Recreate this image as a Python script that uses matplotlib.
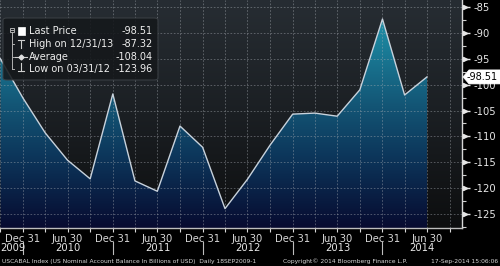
import numpy as np
import pandas as pd
import matplotlib
matplotlib.use("Agg")
import matplotlib.pyplot as plt
import matplotlib.dates as mdates
from matplotlib.colors import LinearSegmentedColormap
from matplotlib.patches import FancyBboxPatch, Polygon
from matplotlib.lines import Line2D
import matplotlib.transforms as mtrans

# ---------------- data ----------------
dates = ["2009-09-30", "2009-12-31", "2010-03-31", "2010-06-30", "2010-09-30",
         "2010-12-31", "2011-03-31", "2011-06-30", "2011-09-30", "2011-12-31",
         "2012-03-31", "2012-06-30", "2012-09-30", "2012-12-31", "2013-03-31",
         "2013-06-30", "2013-09-30", "2013-12-31", "2014-03-31", "2014-06-30"]
values = [-95.0, -102.6, -109.3, -114.6, -118.2,
          -101.8, -118.6, -120.6, -108.0, -112.1,
          -123.96, -118.3, -111.7, -105.7, -105.5,
          -106.1, -101.0, -87.32, -102.0, -98.51]
y_ticks = [-125, -120, -115, -110, -105, -100, -95, -90, -85]
years = ["2009", "2010", "2011", "2012", "2013", "2014"]
footer_left = "USCABAL Index (US Nominal Account Balance In Billions of USD)  Daily 18SEP2009-1"
footer_mid = "Copyright\u00a9 2014 Bloomberg Finance L.P."
footer_right = "17-Sep-2014 15:06:06"

plt.rcParams['axes.unicode_minus'] = False
plt.rcParams['font.family'] = ['DejaVu Sans']

W, H = 500, 266
fig = plt.figure(figsize=(W / 100, H / 100), dpi=100, facecolor='black')


def P(x, y):
    return (x / W, 1 - y / H)


ax_right_px = 462
ax_bottom_px = 228
ax = fig.add_axes([0, 1 - ax_bottom_px / H, ax_right_px / W, ax_bottom_px / H])
ax.set_facecolor('black')

xd = mdates.date2num(pd.to_datetime(dates))
yv = np.array(values)

# x scale: Dec 31 2009 at px 23, Jun 30 2014 at px 427
d0 = mdates.date2num(pd.Timestamp("2009-12-31"))
d1 = mdates.date2num(pd.Timestamp("2014-06-30"))
ppd = (427 - 23) / (d1 - d0)
xmin = d0 - 23 / ppd
xmax = d1 + (ax_right_px - 427) / ppd
ymin, ymax = -127.7, -83.65

# background gradient
bg = LinearSegmentedColormap.from_list('bg', [(0, '#0d0e0f'), (0.5, '#1b1f23'), (1, '#272d33')])
grad = np.linspace(0, 1, 256).reshape(-1, 1)
ax.imshow(grad, cmap=bg, origin='lower', extent=[0, 1, 0, 1], aspect='auto',
          transform=ax.transAxes, zorder=0)

# fill gradient clipped by area polygon
fc = LinearSegmentedColormap.from_list('fill', [(0, '#070b30'), (0.3, '#0c3358'), (0.55, '#135575'),
                                                (0.8, '#1a7b96'), (1.0, '#2298ae')])
im = ax.imshow(grad, cmap=fc, origin='lower', extent=[xd[0], xd[-1], ymin, -85],
               aspect='auto', zorder=1)
poly_pts = np.column_stack([np.r_[xd, xd[-1], xd[0]], np.r_[yv, ymin, ymin]])
poly = Polygon(poly_pts, closed=True, transform=ax.transData, facecolor='none', edgecolor='none')
ax.add_patch(poly)
im.set_clip_path(poly)
ax.set_xlim(xmin, xmax)
ax.set_ylim(ymin, ymax)

ax.plot(xd, yv, color='#c8d2dc', lw=1.0, zorder=4)

# ticks
qdates = pd.date_range("2009-09-30", "2014-09-30", freq="QE")
qticks = mdates.date2num(qdates)
qlabels = ["Dec 31" if t.month == 12 else ("Jun 30" if t.month == 6 else "") for t in qdates]
ax.set_xticks(qticks)
ax.set_xticklabels(qlabels)
ax.set_yticks(y_ticks)
ax.set_yticklabels([f"{v:g}" for v in y_ticks])
ax.set_yticks(np.arange(-127.5, -83, 2.5), minor=True)
ax.yaxis.tick_right()
ax.tick_params(axis='y', which='major', direction='out', length=6, width=1,
               colors='#e6e6e6', labelsize=7.2, pad=2)
ax.tick_params(axis='y', which='minor', direction='out', length=3, width=0.8, colors='#d0d0d0')
ax.tick_params(axis='x', which='major', direction='out', length=3, width=0.8,
               colors='#d8d8d8', labelsize=7.2, pad=1.5)

ax.grid(True, which='major', color='#a8adb3', alpha=0.5, lw=0.6, linestyle=(0, (2, 2)))
ax.set_axisbelow(False)
for g in ax.get_xgridlines() + ax.get_ygridlines():
    g.set_zorder(3)

for s in ['left', 'top']:
    ax.spines[s].set_visible(False)
ax.spines['right'].set_color('#d6d6d6')
ax.spines['right'].set_linewidth(1.0)
ax.spines['bottom'].set_color('#bdbdbd')
ax.spines['bottom'].set_linewidth(1.0)
ax.spines['right'].set_zorder(5)
ax.spines['bottom'].set_zorder(5)

bt = mtrans.blended_transform_factory(ax.transAxes, ax.transData)
# triangular tick heads on y axis
for v in y_ticks:
    ax.plot([1.006], [v], marker='>', ms=3, color='#e6e6e6', transform=bt,
            clip_on=False, zorder=6)

# last price tag (white arrow-shaped label on the right axis)
last = values[-1]
ly = (ymax - last) / (ymax - ymin) * ax_bottom_px  # pixel row from top
tag = Polygon([P(463, ly), P(469, ly - 7), P(500, ly - 7), P(500, ly + 7), P(469, ly + 7)],
              closed=True, transform=fig.transFigure, facecolor='white', edgecolor='white',
              lw=0.5, zorder=30)
fig.add_artist(tag)
fig.text(*P(498, ly), f"{last:.2f}", ha='right', va='center', fontsize=7.0, color='black', zorder=31)

# year row
sep_dates = mdates.date2num(pd.to_datetime(["2009-12-31", "2010-12-31", "2011-12-31",
                                             "2012-12-31", "2013-12-31"]))
def dpx(d):
    return (d - xmin) * ppd

bounds = [0] + [dpx(d) for d in sep_dates] + [ax_right_px]
for i, yr in enumerate(years):
    if i == 0:
        fig.text(*P(0.5, 248), yr, ha='left', va='center', fontsize=7.2, color='#e6e6e6')
    else:
        cx = (bounds[i] + bounds[i + 1]) / 2
        fig.text(*P(cx, 248), yr, ha='center', va='center', fontsize=7.2, color='#e6e6e6')
for b in bounds[1:-1]:
    fig.add_artist(Line2D([b / W, b / W], [1 - 242 / H, 1 - 254 / H], color='#bdbdbd', lw=0.8))

# footer
fig.text(*P(2, 261), footer_left, ha='left', va='center', fontsize=4.3, color='#d8d8d8')
fig.text(*P(283, 261), footer_mid, ha='left', va='center', fontsize=4.3, color='#d8d8d8')
fig.text(*P(498, 261), footer_right, ha='right', va='center', fontsize=4.3, color='#d8d8d8')

# legend box
x0, y0, x1, y1 = 3, 18, 158, 80
lb = FancyBboxPatch(P(x0, y1), (x1 - x0) / W, (y1 - y0) / H,
                    boxstyle='round,pad=0,rounding_size=0.008', transform=fig.transFigure,
                    facecolor='#15181b', edgecolor='#3c4146', lw=0.8, alpha=0.88, zorder=20)
fig.add_artist(lb)
labels = ["Last Price", "High on 12/31/13", "Average", "Low on 03/31/12"]
stats = [last, max(values), float(np.mean(values)), min(values)]
rows = [31.5, 44, 56.5, 69]
for lab, st, ry in zip(labels, stats, rows):
    fig.text(*P(29, ry), lab, ha='left', va='center', fontsize=7, color='#eeeeee', zorder=21)
    fig.text(*P(153, ry), f"{st:.2f}", ha='right', va='center', fontsize=7, color='#eeeeee', zorder=21)

def seg(xa, ya, xb, yb, c='#d0d0d0', lw=0.8):
    fig.add_artist(Line2D([xa / W, xb / W], [1 - ya / H, 1 - yb / H], color=c, lw=lw, zorder=22))

# tree icon
fig.add_artist(FancyBboxPatch(P(9.5, 32), 4 / W, 4.5 / H, boxstyle='square,pad=0',
                              transform=fig.transFigure, fc='none', ec='#b0b0b0', lw=0.7, zorder=22))
seg(10.5, 29.8, 12.7, 29.8, '#b0b0b0', 0.7)
seg(11.5, 32, 11.5, 69, '#b0b0b0', 0.7)
for ry in rows[1:]:
    seg(11.5, ry, 14, ry, '#b0b0b0', 0.7)
# last price white square
fig.add_artist(FancyBboxPatch(P(17.5, 35), 7.5 / W, 8.5 / H, boxstyle='square,pad=0',
                              transform=fig.transFigure, fc='white', ec='white', lw=0.5, zorder=22))
# high T
seg(18.3, 40, 24, 40)
seg(21.1, 40, 21.1, 47.5)
# average
seg(15, 56.5, 27, 56.5)
fig.add_artist(Line2D([21 / W], [1 - 56.5 / H], marker='D', ms=2.5, color='#e0e0e0', zorder=22))
# low
seg(21.1, 63, 21.1, 71)
seg(18.3, 71, 24, 71)

fig.savefig("out.png", dpi=100, facecolor='black')
